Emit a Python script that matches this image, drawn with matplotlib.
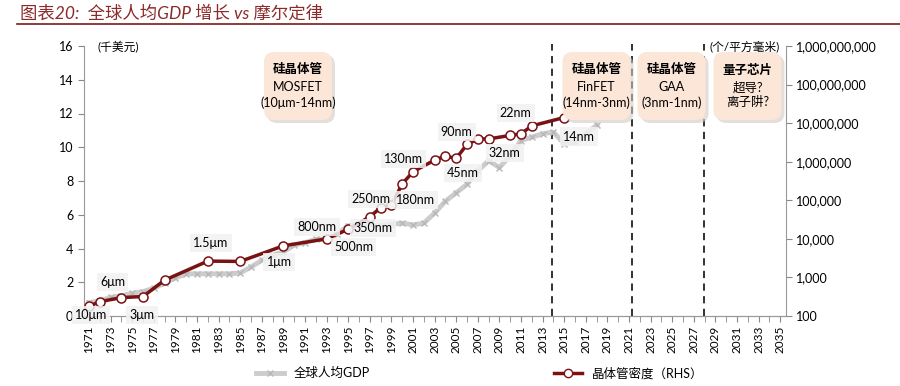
import matplotlib
matplotlib.use("Agg")
import matplotlib.pyplot as plt
from matplotlib.patches import FancyBboxPatch
from matplotlib.lines import Line2D
from matplotlib.ticker import FixedLocator, FuncFormatter

plt.rcParams['font.family'] = ['Lato', 'Noto Sans CJK SC', 'DejaVu Sans']

# world GDP per capita (thousand USD), 1971-2018
gdp_years = list(range(1971, 2019))
gdp = [0.8, 0.9, 1.1, 1.2, 1.35, 1.45, 1.65, 1.95, 2.25, 2.5,
       2.5, 2.5, 2.5, 2.5, 2.55, 2.9, 3.3, 3.6, 3.8, 4.2,
       4.35, 4.55, 4.55, 4.85, 5.35, 5.45, 5.45, 5.35, 5.45, 5.5,
       5.4, 5.5, 6.1, 6.8, 7.3, 7.8, 8.6, 9.2, 8.8, 9.5,
       10.4, 10.6, 10.8, 10.9, 10.2, 10.3, 10.8, 11.3]

# transistor density (per mm^2), right axis
dens_years = [1971, 1972, 1974, 1976, 1978, 1982, 1985, 1989, 1993, 1995,
              1997, 1998, 1999, 2000, 2001, 2003, 2004, 2005, 2006, 2007,
              2008, 2010, 2011, 2012, 2015]
density = [180, 235, 300, 320, 850, 2650, 2600, 6600, 10000, 17700,
           37500, 64000, 75000, 266000, 550000, 1.1e6, 1.4e6, 1.22e6, 2.8e6, 3.9e6,
           3.9e6, 4.8e6, 5.3e6, 8.5e6, 1.4e7]

# process node labels: text, year, left-axis value
node_text = ['10μm', '6μm', '3μm', '1.5μm', '1μm', '800nm', '500nm', '350nm',
             '250nm', '180nm', '130nm', '45nm', '90nm', '32nm', '22nm', '14nm']
node_x = [1971.2, 1973.2, 1975.9, 1982.3, 1988.6, 1992.1, 1995.5, 1997.3,
          1997.1, 2001.25, 2000.1, 2005.6, 2005.05, 2009.5, 2010.5, 2016.4]
node_y = [0.06, 2.03, 0.06, 4.31, 3.18, 5.29, 4.11, 5.23,
          6.93, 6.87, 9.30, 8.46, 10.92, 9.64, 12.05, 10.63]

era_lines = [2013.9, 2021.3, 2027.9]
era_head = ['硅晶体管', '硅晶体管', '硅晶体管', '量子芯片']
era_body = ['MOSFET\n(10μm-14nm)', 'FinFET\n(14nm-3nm)', 'GAA\n(3nm-1nm)', '超导?\n离子阱?']
era_cx = [298, 596.5, 671.5, 747.5]  # box centres in pixels

RED = '#7a1214'
GRAY = '#cccccc'
W, H = 900, 386

fig = plt.figure(figsize=(9, 3.86), dpi=100)
ax = fig.add_axes([83.6 / W, 1 - 316 / H, (785.6 - 83.6) / W, 270 / H])
ax2 = ax.twinx()

ax.plot(gdp_years, gdp, color=GRAY, lw=3.5, marker='x', ms=5,
        mec='#b8b8b8', mew=1, zorder=2)
ax2.plot(dens_years, density, color=RED, lw=2.5, marker='o', ms=6.5,
         mfc='white', mec=RED, mew=1.1, zorder=3)

ax.set_xlim(1970.5, 2035.5)
ax.set_ylim(0, 16)
ax2.set_yscale('log')
ax2.set_ylim(100, 1e9)

ax.set_xticks(range(1971, 2036, 2))
ax.set_xticklabels([str(y) for y in range(1971, 2036, 2)], rotation=90, fontsize=8.5)
ax.xaxis.set_minor_locator(FixedLocator(list(range(1971, 2036))))
ax.tick_params(axis='x', which='both', length=4, color='#888888', pad=3)
ax.set_yticks(range(0, 17, 2))
ax.tick_params(axis='y', labelsize=9, length=4, color='#888888')
ax2.yaxis.set_major_locator(FixedLocator([10 ** k for k in range(2, 10)]))
ax2.yaxis.set_minor_locator(FixedLocator([]))
ax2.yaxis.set_major_formatter(FuncFormatter(lambda v, p: f'{int(round(v)):,}'))
ax2.tick_params(axis='y', labelsize=9, length=4, color='#888888')

for a in (ax, ax2):
    a.spines['top'].set_visible(False)
    for s in ('left', 'right', 'bottom'):
        a.spines[s].set_color('#999999')
ax2.spines['left'].set_visible(False)
ax.spines['right'].set_visible(False)

for xl in era_lines:
    ax.plot([xl, xl], [0, 16.1], color='#222222', lw=1.3, ls=(0, (4, 3)),
            zorder=1, clip_on=False)

for t, x, y in zip(node_text, node_x, node_y):
    ax2.text(x, y, t, transform=ax.transData, ha='center', va='center',
             fontsize=9, zorder=10,
             bbox=dict(boxstyle='square,pad=0.25', fc='#f2f2f2', ec='none', alpha=0.85))

# era boxes (drawn in inch units so corners are round)
for cx, head, body in zip(era_cx, era_head, era_body):
    bw, bh = 64, 64
    x0 = (cx - bw / 2) / 100
    y0 = (H - 118) / 100
    style = 'round,pad=0.02,rounding_size=0.1'
    shadow = FancyBboxPatch((x0 + 0.03, y0 - 0.03), bw / 100, bh / 100, boxstyle=style,
                            transform=fig.dpi_scale_trans, fc='#d3cac4', ec='none',
                            alpha=0.6, zorder=20)
    box = FancyBboxPatch((x0, y0), bw / 100, bh / 100, boxstyle=style,
                         transform=fig.dpi_scale_trans, fc='#fbe6d8', ec='none', zorder=21)
    fig.patches.extend([shadow, box])
    fig.text(cx / W, 1 - 70 / H, head, ha='center', va='center', fontsize=9,
             fontweight='bold', family=['Noto Sans CJK SC'], zorder=22)
    fig.text(cx / W, 1 - 95 / H, body, ha='center', va='center', fontsize=9,
             linespacing=1.25, zorder=22)

fig.text(97 / W, 1 - 46 / H, '(千美元)', ha='left', va='center', fontsize=8.5)
fig.text(780 / W, 1 - 46 / H, '(个/平方毫米)', ha='right', va='center', fontsize=8.5)

fig.text(20 / W, 1 - 13 / H, '图表20:  全球人均GDP 增长 vs 摩尔定律', ha='left', va='center',
         fontsize=12.5, style='italic', color='#8b2a2a')
fig.add_artist(Line2D([17 / W, 1], [1 - 24 / H, 1 - 24 / H], color='#7a1c1c', lw=1.2))

h1 = Line2D([], [], color=GRAY, lw=3.5, marker='x', ms=5, mec='#b8b8b8')
h2 = Line2D([], [], color=RED, lw=2.5, marker='o', ms=6, mfc='white', mec=RED)
fig.legend(handles=[h1], labels=['全球人均GDP'], loc='center left',
           bbox_to_anchor=(245 / W, 1 - 373 / H), frameon=False, fontsize=9,
           handlelength=2.2)
fig.legend(handles=[h2], labels=['晶体管密度（RHS）'], loc='center left',
           bbox_to_anchor=(543 / W, 1 - 373 / H), frameon=False, fontsize=9,
           handlelength=2.2)

fig.savefig('out.png', dpi=100)
